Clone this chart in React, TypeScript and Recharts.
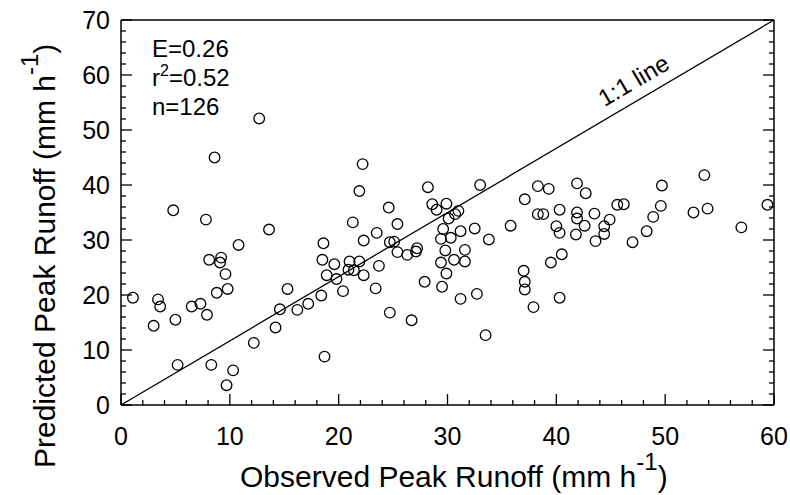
import React from 'react';
import { ScatterChart, Scatter, XAxis, YAxis, ReferenceLine, Customized } from 'recharts';

const observed = [
    1.1, 3.0, 3.4, 3.6, 4.8, 5.0, 5.2, 6.5, 7.3, 7.8,
    7.9, 8.1, 8.3, 8.6, 8.8, 9.1, 9.2, 9.6, 9.7, 9.8,
    10.3, 10.8, 12.2, 12.7, 13.6, 14.2, 14.6, 15.3, 16.2, 17.2,
    18.4, 18.5, 18.6, 18.7, 18.9, 19.6, 19.8, 20.4, 21.0, 20.9,
    21.4, 21.3, 21.9, 21.9, 22.2, 22.3, 22.3, 23.5, 23.4, 23.7,
    24.6, 24.7, 24.7, 25.1, 25.4, 25.4, 26.3, 26.7, 27.1, 27.2,
    27.9, 28.2, 28.6, 29.0, 29.4, 29.4, 29.5, 29.6, 29.8, 29.9,
    29.9, 30.1, 30.3, 30.6, 30.7, 31.0, 31.2, 31.2, 31.6, 31.6,
    32.5, 32.7, 33.0, 33.5, 33.8, 35.8, 37.0, 37.1, 37.1, 37.1,
    37.9, 38.3, 38.3, 38.8, 39.3, 39.5, 40.0, 40.3, 40.3, 40.3,
    40.5, 41.9, 41.9, 41.9, 41.8, 42.6, 42.7, 43.5, 43.6, 44.4,
    44.4, 44.9, 45.6, 46.2, 47.0, 48.3, 48.9, 49.6, 49.7, 52.6,
    53.6, 53.9, 57.0, 59.4,
];
const predicted = [
    19.5, 14.4, 19.2, 17.9, 35.4, 15.5, 7.3, 17.9, 18.4, 33.7,
    16.4, 26.4, 7.3, 45.0, 20.4, 25.9, 26.8, 23.8, 3.6, 21.1,
    6.3, 29.1, 11.3, 52.1, 31.9, 14.1, 17.4, 21.1, 17.3, 18.4,
    19.9, 26.4, 29.4, 8.8, 23.6, 25.6, 22.9, 20.7, 26.1, 24.6,
    24.5, 33.2, 26.1, 38.9, 43.8, 29.9, 23.6, 31.3, 21.2, 25.3,
    35.9, 29.6, 16.8, 29.7, 32.9, 27.8, 27.3, 15.4, 27.9, 28.5,
    22.4, 39.6, 36.5, 35.5, 30.2, 25.9, 21.5, 32.0, 28.1, 36.6,
    23.9, 33.9, 30.4, 26.4, 34.7, 35.3, 31.6, 19.3, 28.2, 26.1,
    32.1, 20.2, 40.0, 12.7, 30.1, 32.6, 24.4, 37.4, 22.4, 21.0,
    17.8, 39.8, 34.7, 34.7, 39.3, 25.9, 32.5, 35.5, 31.3, 19.5,
    27.4, 40.3, 35.0, 33.9, 31.0, 32.6, 38.5, 34.8, 29.8, 32.5,
    31.1, 33.7, 36.4, 36.5, 29.6, 31.6, 34.2, 36.2, 39.9, 35.0,
    41.8, 35.7, 32.3, 36.4,
];

const xTicks = [0, 2, 4, 6, 8, 10, 12, 14, 16, 18, 20, 22, 24, 26, 28, 30, 32, 34, 36, 38, 40, 42, 44, 46, 48, 50, 52, 54, 56, 58, 60];
const yTicks = [0, 2, 4, 6, 8, 10, 12, 14, 16, 18, 20, 22, 24, 26, 28, 30, 32, 34, 36, 38, 40, 42, 44, 46, 48, 50, 52, 54, 56, 58, 60, 62, 64, 66, 68, 70];
// line drawn corner to corner in the original
const diagonal = [{ x: 0, y: 0 }, { x: 60, y: 70 }];
const stats = ['E=0.26', 'r2=0.52', 'n=126'];

const points = observed.map((x, i) => ({ x, y: predicted[i] }));

const FONT = '"Liberation Sans", Arial, sans-serif';
const isMajor = (v: number) => v % 10 === 0;

const BottomTick = ({ x, y, payload }: any) => (
    <g>
        <line x1={x} y1={y} x2={x} y2={y - (isMajor(payload.value) ? 11 : 5)} stroke="#000" strokeWidth={1.3} />
        {isMajor(payload.value) && (
            <text x={x} y={y + 40} textAnchor="middle" fontSize={25} fontFamily={FONT} fill="#000">{payload.value}</text>
        )}
    </g>
);
const TopTick = ({ x, y, payload }: any) => (
    <line x1={x} y1={y} x2={x} y2={y + (isMajor(payload.value) ? 11 : 5)} stroke="#000" strokeWidth={1.3} />
);
const LeftTick = ({ x, y, payload }: any) => (
    <g>
        <line x1={x} y1={y} x2={x + (isMajor(payload.value) ? 11 : 5)} y2={y} stroke="#000" strokeWidth={1.3} />
        {isMajor(payload.value) && (
            <text x={x - 11} y={y} dy="0.36em" textAnchor="end" fontSize={25} fontFamily={FONT} fill="#000">{payload.value}</text>
        )}
    </g>
);
const RightTick = ({ x, y, payload }: any) => (
    <line x1={x} y1={y} x2={x - (isMajor(payload.value) ? 11 : 5)} y2={y} stroke="#000" strokeWidth={1.3} />
);

const Ring = ({ cx, cy }: any) => <circle cx={cx} cy={cy} r={5.3} fill="none" stroke="#000" strokeWidth={1.3} />;

const LineTag = ({ viewBox }: any) => {
    if (!viewBox) return null;
    const { x, y, width, height } = viewBox;
    const t = 0.8;
    const px = x + t * width;
    const py = y + height - t * height;
    const ang = (-Math.atan2(height, width) * 180) / Math.PI;
    return (
        <text x={px} y={py} dy={-11} transform={`rotate(${ang} ${px} ${py})`} textAnchor="middle" fontSize={24} fontFamily={FONT} fill="#000">
            1:1 line
        </text>
    );
};

const Overlay = () => (
    <g fontFamily={FONT} fill="#000">
        <text x={152} y={57} fontSize={24}>{stats[0]}</text>
        <text x={152} y={86} fontSize={24}>
            {stats[1][0]}<tspan fontSize={16} dy={-10}>{stats[1][1]}</tspan><tspan dy={10}>{stats[1].slice(2)}</tspan>
        </text>
        <text x={152} y={115} fontSize={24}>{stats[2]}</text>
        <text x={240} y={487} fontSize={30}>
            Observed Peak Runoff (mm h<tspan fontSize={24} dy={-17}>-1</tspan><tspan dy={17}>)</tspan>
        </text>
        <text x={-468} y={55} transform="rotate(-90)" fontSize={30}>
            Predicted Peak Runoff (mm h<tspan fontSize={24} dy={-17}>-1</tspan><tspan dy={17}>)</tspan>
        </text>
    </g>
);

export default function App() {
    return (
        <div style={{ width: 790, height: 495, background: '#fff', fontFamily: FONT }}>
            <style>{'body{margin:0;}'}</style>
            <ScatterChart width={790} height={495} margin={{ top: 19, right: 15, bottom: 0, left: 0 }}>
                <XAxis
                    xAxisId="b" type="number" dataKey="x" domain={[0, 60]} ticks={xTicks} interval={0}
                    height={90} tickSize={0} tickMargin={0} tickLine={false} tick={<BottomTick />}
                    axisLine={{ stroke: '#000', strokeWidth: 1.5 }} allowDataOverflow
                />
                <XAxis
                    xAxisId="t" orientation="top" type="number" domain={[0, 60]} ticks={xTicks} interval={0}
                    height={1} tickSize={0} tickMargin={0} tickLine={false} tick={<TopTick />}
                    axisLine={{ stroke: '#000', strokeWidth: 1.5 }} allowDataOverflow
                />
                <YAxis
                    yAxisId="l" type="number" dataKey="y" domain={[0, 70]} ticks={yTicks} interval={0}
                    width={121} tickSize={0} tickMargin={0} tickLine={false} tick={<LeftTick />}
                    axisLine={{ stroke: '#000', strokeWidth: 1.5 }} allowDataOverflow
                />
                <YAxis
                    yAxisId="r" orientation="right" type="number" domain={[0, 70]} ticks={yTicks} interval={0}
                    width={1} tickSize={0} tickMargin={0} tickLine={false} tick={<RightTick />}
                    axisLine={{ stroke: '#000', strokeWidth: 1.5 }} allowDataOverflow
                />
                <ReferenceLine
                    xAxisId="b" yAxisId="l" segment={diagonal} stroke="#000" strokeWidth={1.3}
                    label={{ content: LineTag }} ifOverflow="visible"
                />
                <Scatter xAxisId="b" yAxisId="l" data={points} shape={Ring} isAnimationActive={false} />
                <Customized component={Overlay} />
            </ScatterChart>
        </div>
    );
}
